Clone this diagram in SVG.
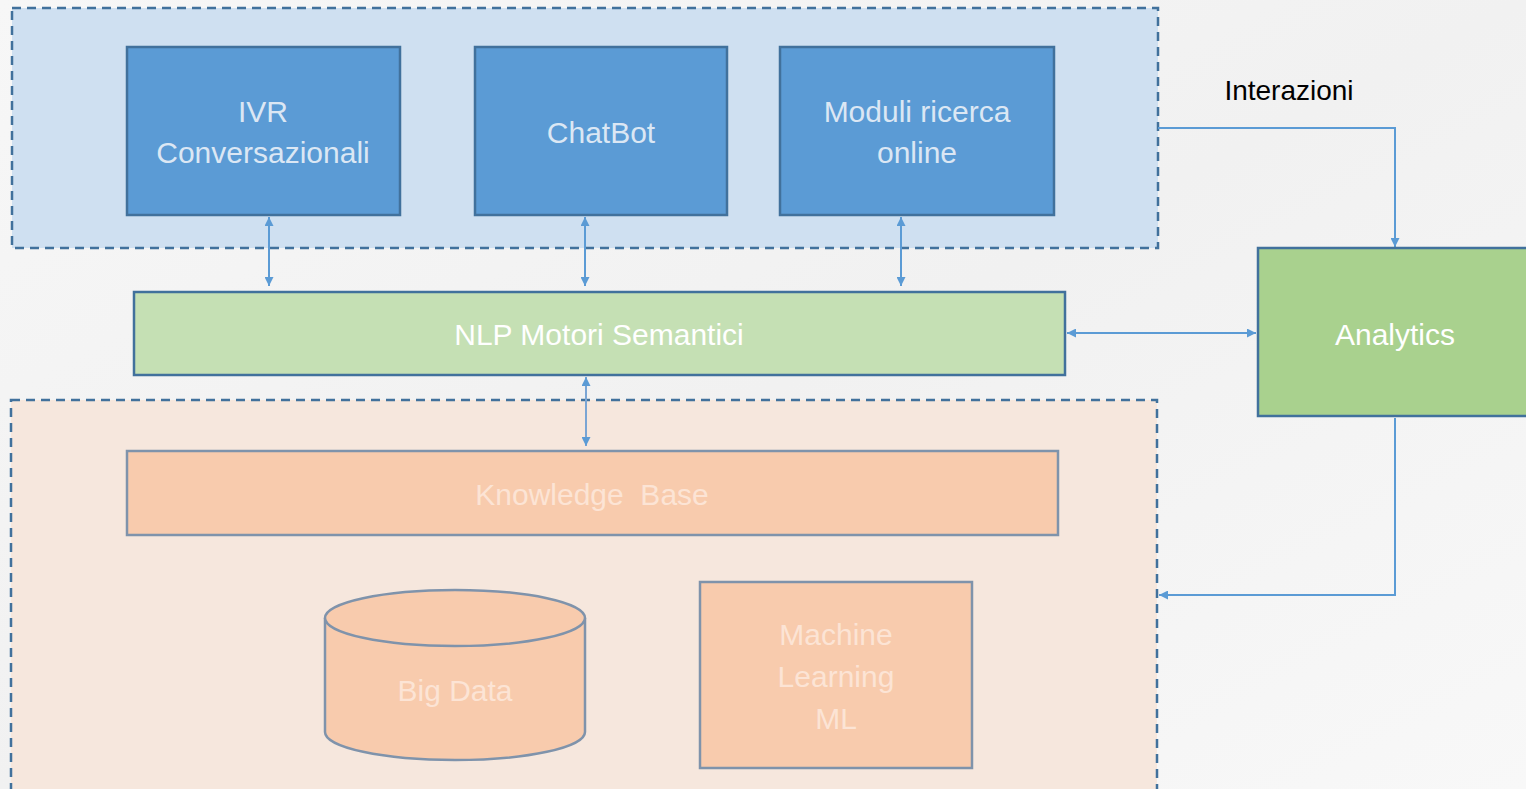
<svg xmlns="http://www.w3.org/2000/svg" width="1526" height="789" viewBox="0 0 1526 789">
<defs>
<style>
.grp{stroke:#41719c;stroke-width:2.5;stroke-dasharray:9 6}
.blue{fill:#5b9bd5;stroke:#41719c;stroke-width:2.5}
.green{fill:#c5e0b4;stroke:#41719c;stroke-width:2.5}
.green2{fill:#a9d18e;stroke:#41719c;stroke-width:2.5}
.peach{fill:#f8cbad;stroke:#7f93ab;stroke-width:2.5}
.t{font-family:"Liberation Sans",Arial,sans-serif;font-size:30px;text-anchor:middle;white-space:pre}
.tb{fill:#dbe7f4}
.tw{fill:#ffffff}
.tp{fill:#fce4d5}
.conn{fill:none;stroke:#5b9bd5;stroke-width:2}
</style>
<marker id="ah" viewBox="0 0 10 10" refX="10" refY="5" markerWidth="10" markerHeight="9" markerUnits="userSpaceOnUse" orient="auto-start-reverse">
<path d="M0,0 L10,5 L0,10 z" fill="#5b9bd5"/>
</marker>
<linearGradient id="bg" x1="0" y1="0" x2="1" y2="1">
<stop offset="0" stop-color="#f7f7f7"/>
<stop offset="0.5" stop-color="#f1f1f1"/>
<stop offset="1" stop-color="#f8f8f8"/>
</linearGradient>
</defs>
<rect x="0" y="0" width="1526" height="789" fill="url(#bg)"/>

<g id="group-top">
<rect x="12" y="8" width="1146" height="240" fill="#cfe0f1" class="grp"/>
</g>
<g id="group-bottom">
<rect x="11" y="400" width="1146" height="400" fill="#f6e7dd" class="grp"/>
</g>

<g id="connectors">
<path class="conn" d="M269,217 V286" marker-start="url(#ah)" marker-end="url(#ah)"/>
<path class="conn" d="M585,217 V286" marker-start="url(#ah)" marker-end="url(#ah)"/>
<path class="conn" d="M901,217 V286" marker-start="url(#ah)" marker-end="url(#ah)"/>
<path class="conn" d="M586,377 V446" marker-start="url(#ah)" marker-end="url(#ah)" style="stroke:#7aa5d4"/>
<path class="conn" d="M1067,333 H1256" marker-start="url(#ah)" marker-end="url(#ah)"/>
<path class="conn" d="M1158,128 H1395 V247" marker-end="url(#ah)"/>
<path class="conn" d="M1395,418 V595 H1159" marker-end="url(#ah)"/>
</g>

<g id="ivr">
<rect x="127" y="47" width="273" height="168" class="blue"/>
<text class="t tb" x="263" y="122">IVR</text>
<text class="t tb" x="263" y="163">Conversazionali</text>
</g>
<g id="chatbot">
<rect x="475" y="47" width="252" height="168" class="blue"/>
<text class="t tb" x="601" y="143">ChatBot</text>
</g>
<g id="moduli">
<rect x="780" y="47" width="274" height="168" class="blue"/>
<text class="t tb" x="917" y="122">Moduli ricerca</text>
<text class="t tb" x="917" y="163">online</text>
</g>
<g id="nlp">
<rect x="134" y="292" width="931" height="83" class="green"/>
<text class="t tw" x="599" y="345">NLP Motori Semantici</text>
</g>
<g id="analytics">
<rect x="1258" y="248" width="275" height="168" class="green2"/>
<text class="t tw" x="1395" y="345">Analytics</text>
</g>
<g id="knowledge-base">
<rect x="127" y="451" width="931" height="84" class="peach"/>
<text class="t tp" x="592" y="505" xml:space="preserve">Knowledge  Base</text>
</g>
<g id="big-data">
<path d="M325,618 V732 A130,28 0 0 0 585,732 V618" class="peach"/>
<ellipse cx="455" cy="618" rx="130" ry="28" class="peach"/>
<text class="t tp" x="455" y="701">Big Data</text>
</g>
<g id="machine-learning">
<rect x="700" y="582" width="272" height="186" class="peach"/>
<text class="t tp" x="836" y="645">Machine</text>
<text class="t tp" x="836" y="687">Learning</text>
<text class="t tp" x="836" y="729">ML</text>
</g>
<g id="label-interazioni">
<text x="1289" y="100" style="font-family:'Liberation Sans',Arial,sans-serif;font-size:28px;text-anchor:middle;fill:#000">Interazioni</text>
</g>
</svg>
